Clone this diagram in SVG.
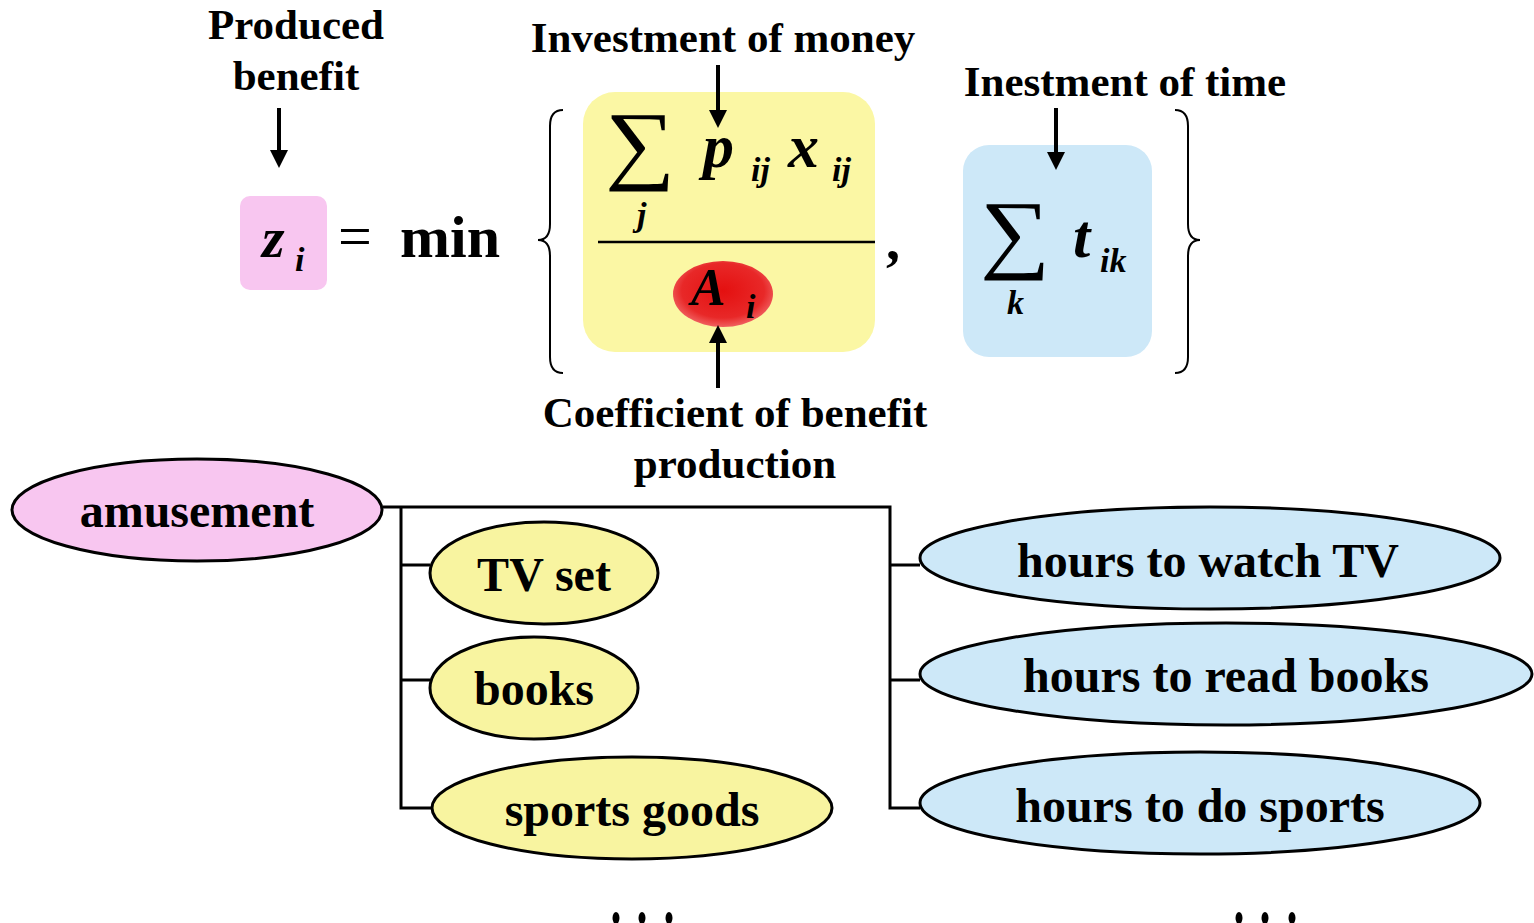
<svg xmlns="http://www.w3.org/2000/svg" width="1534" height="923" viewBox="0 0 1534 923">
<style>
.lbl{font-family:"Liberation Serif","Times New Roman",serif;font-weight:bold;font-size:43px;fill:#000;text-anchor:middle}
.node{font-family:"Liberation Serif","Times New Roman",serif;font-weight:bold;font-size:48px;fill:#000;text-anchor:middle}
.mi{font-family:"Liberation Serif","Times New Roman",serif;font-weight:bold;font-style:italic;fill:#000}
.rm{font-family:"Liberation Serif","Times New Roman",serif;fill:#000}
.sum{font-family:"Liberation Serif","DejaVu Serif",serif;fill:#000}
.el{stroke:#000;stroke-width:3}
.conn{fill:none;stroke:#000;stroke-width:3}
.arr{stroke:#000;stroke-width:4}
.brace{fill:none;stroke:#000;stroke-width:2}
</style>
<defs>
<marker id="ah" viewBox="0 0 18 18" markerWidth="18" markerHeight="18" refX="0" refY="9" orient="auto" markerUnits="userSpaceOnUse">
<path d="M0,0 L18,9 L0,18 z" fill="#000"/>
</marker>
<radialGradient id="red" cx="50%" cy="45%" r="55%">
<stop offset="0" stop-color="#e41010"/>
<stop offset="0.75" stop-color="#e82828"/>
<stop offset="1" stop-color="#f06060"/>
</radialGradient>
</defs>
<rect width="1534" height="923" fill="#fff"/>

<g id="label-produced">
<text class="lbl" x="296" y="39">Produced</text>
<text class="lbl" x="296" y="90">benefit</text>
</g>
<g id="label-money"><text class="lbl" x="723" y="52">Investment of money</text></g>
<g id="label-time"><text class="lbl" x="1125" y="96">Inestment of time</text></g>
<g id="label-coef">
<text class="lbl" x="735" y="427">Coefficient of benefit</text>
<text class="lbl" x="735" y="478">production</text>
</g>

<g id="z-box">
<rect x="240" y="196" width="87" height="94" rx="10" fill="#f8c6f0"/>
<text class="mi" x="262" y="257" font-size="58">z</text>
<text class="mi" x="295" y="271" font-size="34">i</text>
</g>
<g id="equals-min">
<text class="rm" x="338" y="256" font-size="60">=</text>
<text class="lbl" x="450" y="257" style="font-size:60px">min</text>
</g>
<g id="braces">
<path class="brace" d="M563,110 Q550,110 550,126 L550,224 Q550,240 538,240 Q550,240 550,256 L550,357 Q550,373 563,373"/>
<path class="brace" d="M1175,110 Q1188,110 1188,126 L1188,224 Q1188,240 1200,240 Q1188,240 1188,256 L1188,357 Q1188,373 1175,373"/>
</g>
<g id="money-box">
<rect x="583" y="92" width="292" height="260" rx="32" fill="#fbf7a4"/>
<text class="sum" font-size="88" transform="translate(605,173) scale(1.12,1)">∑</text>
<text class="mi" x="637" y="226" font-size="34">j</text>
<text class="mi" x="703" y="167" font-size="62">p</text>
<text class="mi" x="751" y="181" font-size="34">ij</text>
<text class="mi" x="788" y="167" font-size="62">x</text>
<text class="mi" x="832" y="181" font-size="34">ij</text>
<line x1="598" y1="242" x2="875" y2="242" stroke="#000" stroke-width="2.5"/>
<ellipse cx="723" cy="294" rx="50" ry="33" fill="url(#red)"/>
<text class="mi" x="691" y="305" font-size="52">A</text>
<text class="mi" x="746" y="318" font-size="34">i</text>
</g>
<g id="comma"><text class="lbl" x="893" y="259" style="font-size:56px">,</text></g>
<g id="time-box">
<rect x="963" y="145" width="189" height="212" rx="26" fill="#cde8f8"/>
<text class="sum" font-size="88" transform="translate(980,262) scale(1.12,1)">∑</text>
<text class="mi" x="1007" y="314" font-size="34">k</text>
<text class="mi" x="1073" y="257" font-size="62">t</text>
<text class="mi" x="1100" y="272" font-size="34">ik</text>
</g>

<g id="connectors">
<line class="arr" x1="279" y1="108" x2="279" y2="150" marker-end="url(#ah)"/>
<line class="arr" x1="718" y1="65" x2="718" y2="110" marker-end="url(#ah)"/>
<line class="arr" x1="1056" y1="108" x2="1056" y2="152" marker-end="url(#ah)"/>
<line class="arr" x1="718" y1="388" x2="718" y2="343" marker-end="url(#ah)"/>
<path class="conn" d="M383,507 L890,507 L890,808 L920,808 M890,565 L920,565 M890,680 L920,680"/>
<path class="conn" d="M401,507 L401,808 L432,808 M401,565 L430,565 M401,680 L430,680"/>
</g>

<g id="node-amusement">
<ellipse class="el" cx="197" cy="510" rx="185" ry="51" fill="#f8c6f0"/>
<text class="node" x="197" y="527">amusement</text>
</g>
<g id="node-tvset">
<ellipse class="el" cx="544" cy="573" rx="114" ry="51" fill="#f8f4a0"/>
<text class="node" x="544" y="591">TV set</text>
</g>
<g id="node-books">
<ellipse class="el" cx="534" cy="688" rx="104" ry="51" fill="#f8f4a0"/>
<text class="node" x="534" y="705">books</text>
</g>
<g id="node-sports-goods">
<ellipse class="el" cx="632" cy="808" rx="200" ry="51" fill="#f8f4a0"/>
<text class="node" x="632" y="826">sports goods</text>
</g>
<g id="node-hours-tv">
<ellipse class="el" cx="1210" cy="558" rx="290" ry="51" fill="#cde8f8"/>
<text class="node" x="1208" y="577">hours to watch TV</text>
</g>
<g id="node-hours-books">
<ellipse class="el" cx="1226" cy="674" rx="306" ry="51" fill="#cde8f8"/>
<text class="node" x="1226" y="692">hours to read books</text>
</g>
<g id="node-hours-sports">
<ellipse class="el" cx="1200" cy="803" rx="280" ry="51" fill="#cde8f8"/>
<text class="node" x="1200" y="822">hours to do sports</text>
</g>
<g id="dots-left">
<ellipse cx="616" cy="918" rx="3.5" ry="6" fill="#000"/>
<ellipse cx="642" cy="918" rx="3.5" ry="6" fill="#000"/>
<ellipse cx="669" cy="918" rx="3.5" ry="6" fill="#000"/>
</g>
<g id="dots-right">
<ellipse cx="1239" cy="918" rx="3.5" ry="6" fill="#000"/>
<ellipse cx="1265" cy="918" rx="3.5" ry="6" fill="#000"/>
<ellipse cx="1292" cy="918" rx="3.5" ry="6" fill="#000"/>
</g>
</svg>
